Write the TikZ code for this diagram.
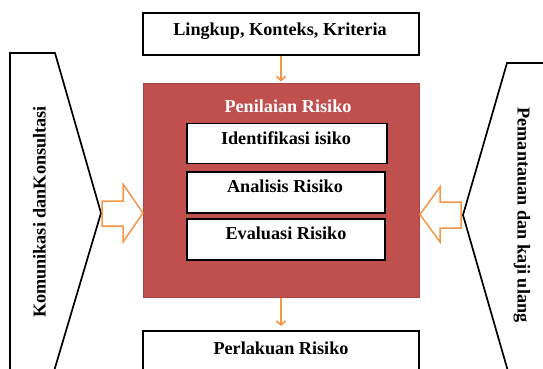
\documentclass[tikz,border=0pt]{standalone}
\usepackage{fontspec}
\setmainfont{Liberation Serif}
\usetikzlibrary{arrows.meta}
\definecolor{riskred}{HTML}{C0504D}
\definecolor{riskredline}{HTML}{A94441}
\definecolor{arrorange}{HTML}{F79646}
\begin{document}
\begin{tikzpicture}[x=1pt,y=-1pt,
  lbl/.style={font=\fontsize{18.2}{21}\selectfont\bfseries, inner sep=0pt},
  blackbox/.style={draw=black, line width=1.9pt, fill=white, inner sep=0pt},
  flow/.style={draw=arrorange, line width=1.7pt, -{Straight Barb[length=4pt,width=9pt]}},
  hollow/.style={draw=arrorange, line width=1.5pt, fill=white, line join=miter},
  side/.style={draw=black, line width=1.7pt, fill=white, line join=miter}]
\useasboundingbox (0,0) rectangle (543,368);
\begin{scope}
\clip (0,0) rectangle (543,368);
% side shapes
\draw[side] (10,53) -- (55,53) -- (101,213) -- (51.4,380) -- (10,380) -- cycle;
\draw[side] (560,63) -- (507,63) -- (463,215) -- (510.5,380) -- (560,380) -- cycle;
\node[lbl, rotate=90] (komm) at (39.5,212) {Komunikasi danKonsultasi};
\node[lbl, rotate=-90] (pant) at (522,215) {Pemantauan dan kaji ulang};
% boxes
\node[blackbox, minimum width=276pt, minimum height=42pt] (scope) at (281,34) {};
\node[lbl, anchor=base] (scopet) at (280,35.5) {Lingkup, Konteks, Kriteria};
\node[draw=riskredline, line width=1pt, fill=riskred, minimum width=276pt, minimum height=214pt, inner sep=0pt] (assess) at (281,190) {};
\node[lbl, anchor=base, text=white] (assesst) at (288,112.5) {Penilaian Risiko};
\node[blackbox, minimum width=200pt, minimum height=40pt] (ident) at (287,143.5) {};
\node[lbl, anchor=base] (identt) at (286,144) {Identifikasi isiko};
\node[blackbox, minimum width=198pt, minimum height=41pt] (anal) at (286,192.5) {};
\node[lbl, anchor=base] (analt) at (285,192.5) {Analisis Risiko};
\node[blackbox, minimum width=198pt, minimum height=41pt] (eval) at (286,239.5) {};
\node[lbl, anchor=base] (evalt) at (286,239.5) {Evaluasi Risiko};
\node[blackbox, minimum width=276pt, minimum height=46pt] (treat) at (281,354) {};
\node[lbl, anchor=base] (treatt) at (281,354) {Perlakuan Risiko};
% connectors
\draw[flow, shorten >=1pt] (scope.south) -- (assess.north);
\draw[flow, shorten >=4pt] (assess.south) -- (treat.north);
% hollow block arrows
\draw[hollow] (102,201) -- (123,201) -- (123,184) -- (143,213) -- (123,242) -- (123,226) -- (102,226) -- cycle;
\draw[hollow] (461,202) -- (440,202) -- (440,187) -- (420,214.5) -- (440,242) -- (440,228) -- (461,228) -- cycle;
\end{scope}
\end{tikzpicture}
\end{document}
